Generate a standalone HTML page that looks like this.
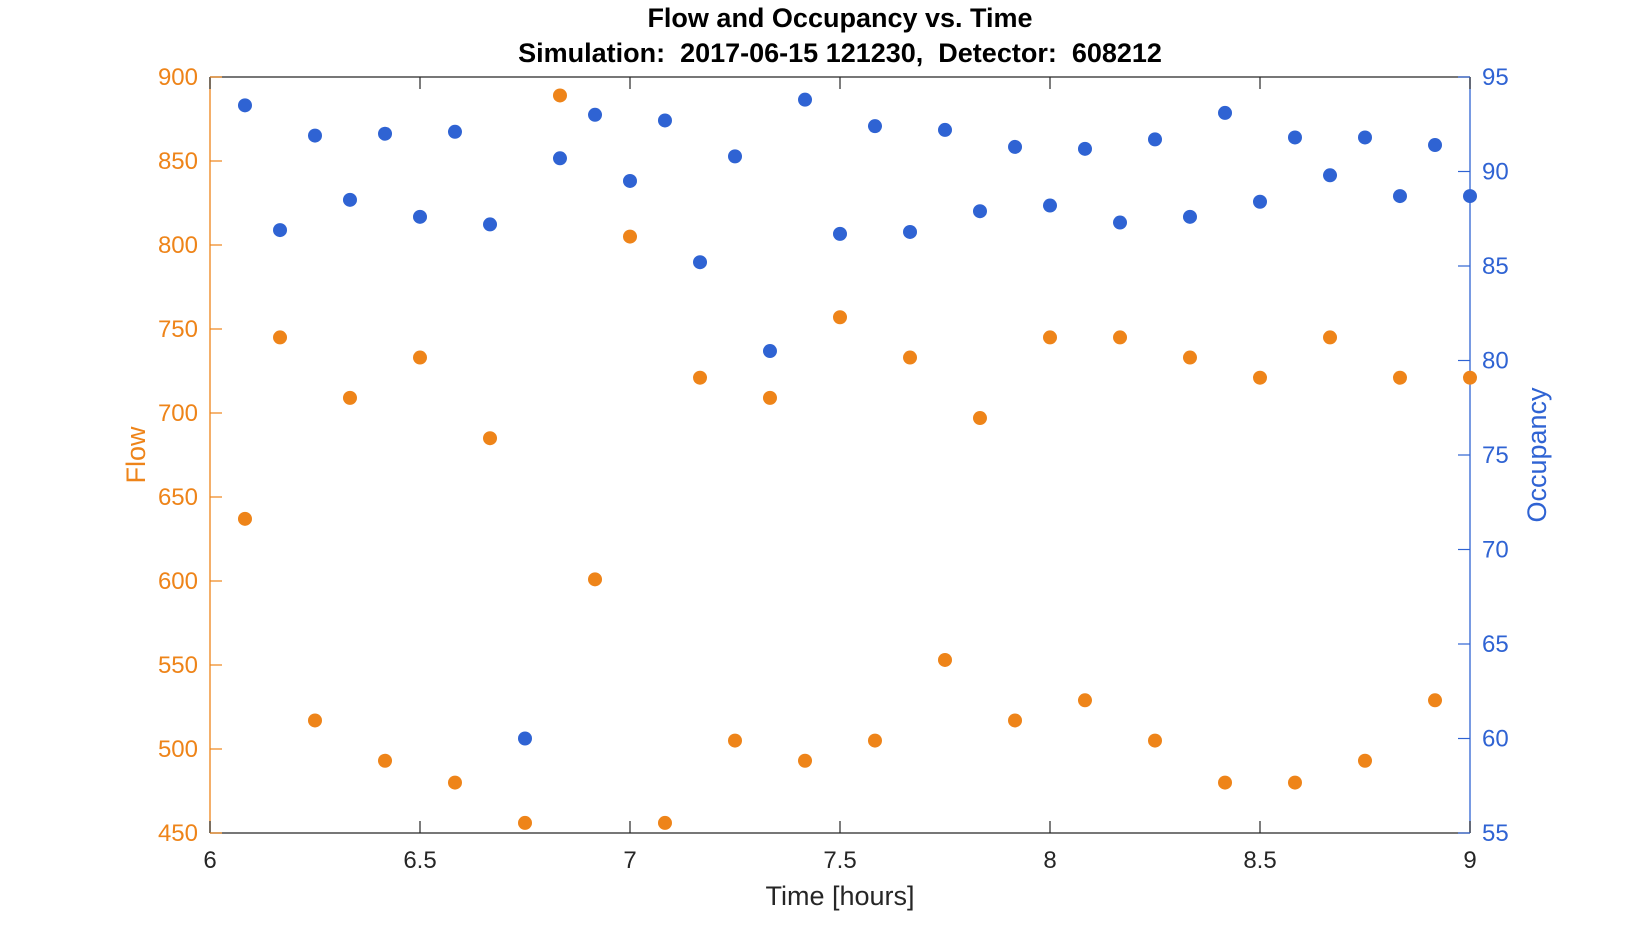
<!DOCTYPE html>
<html><head><meta charset="utf-8"><style>
html,body{margin:0;padding:0;background:#fff;}
svg{display:block;font-family:"Liberation Sans",Arial,sans-serif;}
.pre{white-space:pre;}
</style></head><body>
<svg id="chart" width="1625" height="938" xmlns="http://www.w3.org/2000/svg">
<text x="840" y="27" text-anchor="middle" font-size="27" font-weight="bold" fill="#000">Flow and Occupancy vs. Time</text>
<text class="pre" xml:space="preserve" x="840" y="62" text-anchor="middle" font-size="27" font-weight="bold" fill="#000">Simulation:  2017-06-15 121230,  Detector:  608212</text>
<g id="axes"></g>
<g id="marks"></g>
</svg>
<script>
const times=[6.0833,6.1667,6.25,6.3333,6.4167,6.5,6.5833,6.6667,6.75,6.8333,6.9167,7.0,7.0833,7.1667,7.25,7.3333,7.4167,7.5,7.5833,7.6667,7.75,7.8333,7.9167,8.0,8.0833,8.1667,8.25,8.3333,8.4167,8.5,8.5833,8.6667,8.75,8.8333,8.9167,9.0];
const flow=[637,745,517,709,493,733,480,685,456,889,601,805,456,721,505,709,493,757,505,733,553,697,517,745,529,745,505,733,480,721,480,745,493,721,529,721];
const occupancy=[93.5,86.9,91.9,88.5,92.0,87.6,92.1,87.2,60.0,90.7,93.0,89.5,92.7,85.2,90.8,80.5,93.8,86.7,92.4,86.8,92.2,87.9,91.3,88.2,91.2,87.3,91.7,87.6,93.1,88.4,91.8,89.8,91.8,88.7,91.4,88.7];
const xTicks=[6,6.5,7,7.5,8,8.5,9];
const xTickLabels=['6','6.5','7','7.5','8','8.5','9'];
const flowTicks=[450,500,550,600,650,700,750,800,850,900];
const occTicks=[55,60,65,70,75,80,85,90,95];

const L=210,R=1470,T=77,B=833;
const OR='#EE8419',BL='#2F63D3';
const xs=v=>L+(v-6)/3*(R-L);
const yf=v=>B-(v-450)/450*(B-T);
const yo=v=>B-(v-55)/40*(B-T);
const NS='http://www.w3.org/2000/svg';
const axes=document.getElementById('axes'),marks=document.getElementById('marks');
function mk(tag,attrs,parent,text){const e=document.createElementNS(NS,tag);for(const k in attrs)e.setAttribute(k,attrs[k]);if(text!==undefined)e.textContent=text;parent.appendChild(e);return e;}

let e;
e=mk('line',{x1:L,y1:T,x2:R,y2:T,stroke:'#262626','stroke-width':1.3},axes);


e=mk('line',{x1:L,y1:B,x2:R,y2:B,stroke:'#262626','stroke-width':1.3},axes);


e=mk('line',{x1:L,y1:T,x2:L,y2:B,stroke:OR,'stroke-width':1.3},axes);


e=mk('line',{x1:R,y1:T,x2:R,y2:B,stroke:BL,'stroke-width':1.3},axes);



xTicks.forEach((v,i)=>{
  const x=xs(v);
  let t=mk('line',{x1:x,y1:B,x2:x,y2:B-12,stroke:'#262626','stroke-width':1.2},axes);
  
  
  t=mk('line',{x1:x,y1:T,x2:x,y2:T+12,stroke:'#262626','stroke-width':1.2},axes);
  
  
  const lb=mk('text',{x:x,y:B+35,'text-anchor':'middle','font-size':24,fill:'#262626'},axes,xTickLabels[i]);
  
  
});
flowTicks.forEach(v=>{
  const y=yf(v);
  const t=mk('line',{x1:L,y1:y,x2:L+12,y2:y,stroke:OR,'stroke-width':1.2},axes);
  
  
  const lb=mk('text',{x:L-12,y:y+8,'text-anchor':'end','font-size':24,fill:OR},axes,String(v));
  
  
});
occTicks.forEach(v=>{
  const y=yo(v);
  const t=mk('line',{x1:R,y1:y,x2:R-12,y2:y,stroke:BL,'stroke-width':1.2},axes);
  
  
  const lb=mk('text',{x:R+12,y:y+8,'text-anchor':'start','font-size':24,fill:BL},axes,String(v));
  
  
});
e=mk('text',{x:840,y:B+72,'text-anchor':'middle','font-size':27,fill:'#262626'},axes,'Time [hours]');


e=mk('text',{x:0,y:0,'text-anchor':'middle','font-size':27,fill:OR,transform:`translate(145,${(T+B)/2}) rotate(-90)`},axes,'Flow');


e=mk('text',{x:0,y:0,'text-anchor':'middle','font-size':27,fill:BL,transform:`translate(1546,${(T+B)/2}) rotate(-90)`},axes,'Occupancy');



times.forEach((t,i)=>{
  const c=mk('circle',{cx:xs(t),cy:yf(flow[i]),r:7,fill:OR},marks);
  
  
});
times.forEach((t,i)=>{
  const c=mk('circle',{cx:xs(t),cy:yo(occupancy[i]),r:7,fill:BL},marks);
  
  
});
</script>
</body></html>
